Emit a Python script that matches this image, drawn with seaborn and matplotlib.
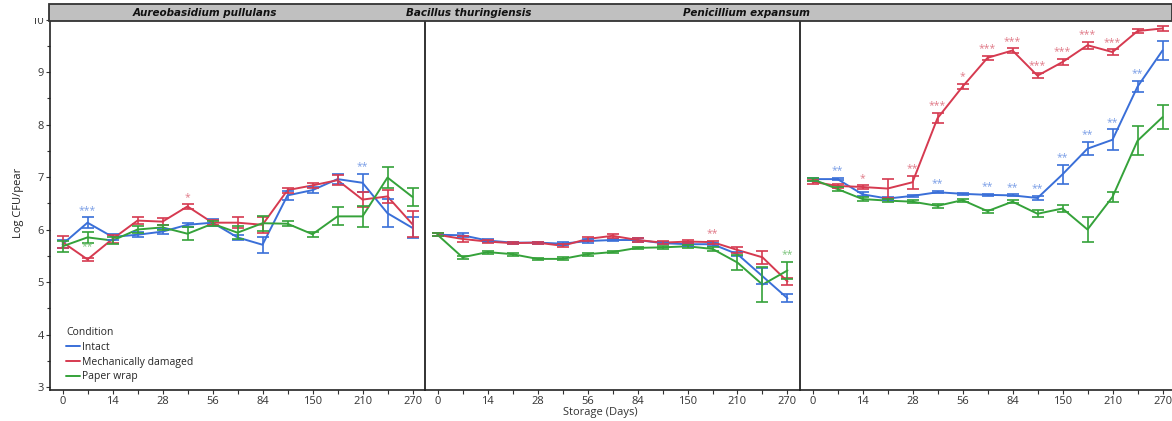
import pandas as pd
import matplotlib
matplotlib.use('Agg')
import matplotlib.pyplot as plt
from matplotlib.patches import Rectangle
from matplotlib.ticker import MultipleLocator
import seaborn as sns

# Storage days (categorical positions)
days = ['0', '7', '14', '21', '28', '42', '56', '70', '84', '120', '150', '180', '210', '240', '270']
labeled_days = ['0', '14', '28', '56', '84', '150', '210', '270']
species = ['Aureobasidium pullulans', 'Bacillus thuringiensis', 'Penicillium expansum']
conditions = ['Intact', 'Mechanically damaged', 'Paper wrap']

# Aureobasidium pullulans
ap_intact = [5.72, 6.13, 5.86, 5.90, 5.96, 6.09, 6.13, 5.85, 5.71, 6.65, 6.75, 6.96, 6.89, 6.31, 6.03]
ap_intact_err = [0.08, 0.10, 0.06, 0.05, 0.05, 0.04, 0.07, 0.05, 0.15, 0.08, 0.06, 0.10, 0.17, 0.27, 0.20]
ap_damaged = [5.76, 5.43, 5.82, 6.17, 6.15, 6.44, 6.13, 6.13, 6.09, 6.75, 6.84, 6.94, 6.57, 6.63, 6.10]
ap_damaged_err = [0.12, 0.03, 0.08, 0.06, 0.07, 0.04, 0.05, 0.10, 0.15, 0.05, 0.05, 0.10, 0.15, 0.12, 0.25]
ap_paper = [5.68, 5.85, 5.79, 6.00, 6.04, 5.92, 6.11, 5.94, 6.12, 6.11, 5.91, 6.25, 6.25, 6.99, 6.62]
ap_paper_err = [0.10, 0.10, 0.06, 0.07, 0.05, 0.12, 0.05, 0.12, 0.14, 0.05, 0.05, 0.17, 0.20, 0.20, 0.17]

# Bacillus thuringiensis
bt_intact = [5.90, 5.89, 5.79, 5.75, 5.75, 5.73, 5.78, 5.80, 5.80, 5.74, 5.72, 5.72, 5.53, 5.11, 4.69]
bt_intact_err = [0.03, 0.04, 0.03, 0.02, 0.02, 0.03, 0.03, 0.02, 0.03, 0.02, 0.03, 0.03, 0.04, 0.15, 0.08]
bt_damaged = [5.90, 5.82, 5.77, 5.74, 5.75, 5.69, 5.82, 5.88, 5.80, 5.75, 5.77, 5.76, 5.61, 5.47, 5.01]
bt_damaged_err = [0.03, 0.05, 0.03, 0.02, 0.02, 0.03, 0.03, 0.04, 0.03, 0.03, 0.03, 0.03, 0.05, 0.12, 0.07]
bt_paper = [5.90, 5.47, 5.57, 5.53, 5.44, 5.44, 5.53, 5.57, 5.65, 5.66, 5.68, 5.63, 5.37, 4.95, 5.22]
bt_paper_err = [0.03, 0.03, 0.03, 0.03, 0.02, 0.03, 0.03, 0.02, 0.02, 0.03, 0.03, 0.04, 0.15, 0.33, 0.16]

# Penicillium expansum
pe_intact = [6.96, 6.96, 6.67, 6.59, 6.64, 6.71, 6.68, 6.66, 6.65, 6.60, 7.05, 7.54, 7.71, 8.72, 9.41]
pe_intact_err = [0.03, 0.02, 0.04, 0.03, 0.02, 0.02, 0.02, 0.02, 0.02, 0.04, 0.18, 0.13, 0.20, 0.11, 0.19]
pe_damaged = [6.91, 6.83, 6.81, 6.78, 6.90, 8.12, 8.72, 9.27, 9.41, 8.93, 9.19, 9.51, 9.38, 9.78, 9.83]
pe_damaged_err = [0.04, 0.03, 0.03, 0.18, 0.12, 0.10, 0.05, 0.04, 0.04, 0.05, 0.06, 0.07, 0.05, 0.04, 0.05]
pe_paper = [6.96, 6.77, 6.58, 6.55, 6.53, 6.45, 6.56, 6.35, 6.53, 6.30, 6.40, 6.00, 6.62, 7.69, 8.14]
pe_paper_err = [0.03, 0.04, 0.03, 0.03, 0.03, 0.04, 0.03, 0.03, 0.03, 0.07, 0.06, 0.23, 0.10, 0.28, 0.23]

# significance marks: (species, condition, day, label, below)
signif = [
    ('Aureobasidium pullulans', 'Intact', '7', '***', False),
    ('Aureobasidium pullulans', 'Paper wrap', '7', '**', True),
    ('Aureobasidium pullulans', 'Mechanically damaged', '42', '*', False),
    ('Aureobasidium pullulans', 'Intact', '210', '**', False),
    ('Bacillus thuringiensis', 'Mechanically damaged', '180', '**', False),
    ('Bacillus thuringiensis', 'Paper wrap', '270', '**', False),
    ('Penicillium expansum', 'Intact', '7', '**', False),
    ('Penicillium expansum', 'Intact', '42', '**', False),
    ('Penicillium expansum', 'Intact', '70', '**', False),
    ('Penicillium expansum', 'Intact', '84', '**', False),
    ('Penicillium expansum', 'Intact', '120', '**', False),
    ('Penicillium expansum', 'Intact', '150', '**', False),
    ('Penicillium expansum', 'Intact', '180', '**', False),
    ('Penicillium expansum', 'Intact', '210', '**', False),
    ('Penicillium expansum', 'Intact', '240', '**', False),
    ('Penicillium expansum', 'Mechanically damaged', '14', '*', False),
    ('Penicillium expansum', 'Mechanically damaged', '28', '**', False),
    ('Penicillium expansum', 'Mechanically damaged', '42', '***', False),
    ('Penicillium expansum', 'Mechanically damaged', '56', '*', False),
    ('Penicillium expansum', 'Mechanically damaged', '70', '***', False),
    ('Penicillium expansum', 'Mechanically damaged', '84', '***', False),
    ('Penicillium expansum', 'Mechanically damaged', '120', '***', False),
    ('Penicillium expansum', 'Mechanically damaged', '150', '***', False),
    ('Penicillium expansum', 'Mechanically damaged', '180', '***', False),
    ('Penicillium expansum', 'Mechanically damaged', '210', '***', False),
    ('Penicillium expansum', 'Mechanically damaged', '240', '***', False),
]

series = {
    ('Aureobasidium pullulans', 'Intact'): (ap_intact, ap_intact_err),
    ('Aureobasidium pullulans', 'Mechanically damaged'): (ap_damaged, ap_damaged_err),
    ('Aureobasidium pullulans', 'Paper wrap'): (ap_paper, ap_paper_err),
    ('Bacillus thuringiensis', 'Intact'): (bt_intact, bt_intact_err),
    ('Bacillus thuringiensis', 'Mechanically damaged'): (bt_damaged, bt_damaged_err),
    ('Bacillus thuringiensis', 'Paper wrap'): (bt_paper, bt_paper_err),
    ('Penicillium expansum', 'Intact'): (pe_intact, pe_intact_err),
    ('Penicillium expansum', 'Mechanically damaged'): (pe_damaged, pe_damaged_err),
    ('Penicillium expansum', 'Paper wrap'): (pe_paper, pe_paper_err),
}

rows = []
for (sp, cond), (vals, errs) in series.items():
    for i, (d, v, e) in enumerate(zip(days, vals, errs)):
        rows.append((sp, cond, d, i, v, e))
df = pd.DataFrame(rows, columns=['Species', 'Condition', 'Day', 'pos', 'value', 'err'])

palette = {'Intact': '#3a6fd8', 'Mechanically damaged': '#d63a50', 'Paper wrap': '#35a23a'}
star_colors = {'Intact': '#7a9ee6', 'Mechanically damaged': '#e07a88', 'Paper wrap': '#7cc47c'}

sns.set_style('white')
plt.rcParams['font.family'] = ['Open Sans', 'DejaVu Sans']

fig = plt.figure(figsize=(11.72, 4.21), dpi=100)
W, H = 1172, 421
ax_w = 375 / W
axes = []
for k in range(3):
    ax = fig.add_axes([(50 + 375 * k) / W, 1 - 390 / H, ax_w, (390 - 12) / H])
    axes.append(ax)

for k, (ax, sp) in enumerate(zip(axes, species)):
    sub = df[df['Species'] == sp]
    sns.lineplot(data=sub, x='pos', y='value', hue='Condition', hue_order=conditions,
                 palette=palette, errorbar=None, linewidth=1.4, ax=ax, legend=(k == 0))
    for cond in conditions:
        s = sub[sub['Condition'] == cond]
        ax.errorbar(s['pos'], s['value'], yerr=s['err'], fmt='none',
                    ecolor=palette[cond], elinewidth=1.2, capsize=4, capthick=1.2)
    for sp2, cond, d, lab, below in signif:
        if sp2 != sp:
            continue
        s = sub[(sub['Condition'] == cond) & (sub['Day'] == d)].iloc[0]
        if below:
            ax.text(s['pos'], s['value'] - s['err'] + 0.02, lab, color=star_colors[cond],
                    ha='center', va='top', fontsize=7.5)
        else:
            ax.text(s['pos'], s['value'] + s['err'] + 0.03, lab, color=star_colors[cond],
                    ha='center', va='bottom', fontsize=7.5)

    ax.set_xlim(-0.5, 14.5)
    ax.set_ylim(2.943, 10.143)
    ax.set_xticks(range(0, 15, 2))
    ax.set_xticklabels(labeled_days)
    ax.xaxis.set_minor_locator(MultipleLocator(1))
    ax.yaxis.set_major_locator(MultipleLocator(1))
    ax.yaxis.set_minor_locator(MultipleLocator(0.5))
    ax.set_xlabel('')
    ax.set_ylabel('')
    ax.tick_params(axis='x', which='major', direction='out', length=3, width=0.8, pad=1,
                   labelsize=8, colors='#333333', bottom=True)
    ax.tick_params(axis='x', which='minor', direction='out', length=3, width=0.8,
                   colors='#333333', bottom=True)
    ax.tick_params(axis='y', which='major', direction='out', length=3, width=0.8, pad=1.5,
                   labelsize=8, colors='#333333', left=(k == 0), labelleft=(k == 0))
    ax.tick_params(axis='y', which='minor', direction='out', length=2, width=0.8,
                   colors='#333333', left=(k == 0))
    for side in ['top', 'right']:
        ax.spines[side].set_visible(False)
    ax.spines['bottom'].set_color('#222222')
    ax.spines['bottom'].set_linewidth(1.2)
    ax.spines['left'].set_color('#222222')
    ax.spines['left'].set_linewidth(1.3 if k > 0 else 1.2)

leg = axes[0].get_legend()
handles, labels = axes[0].get_legend_handles_labels()
leg.remove()
axes[0].legend(handles, labels, title='Condition', loc='lower left',
               bbox_to_anchor=(0.012, -0.01), frameon=False, fontsize=7.5, title_fontsize=7.5,
               handlelength=1.3, handletextpad=0.2, labelspacing=0.35, borderpad=0.6,
               alignment='left')

# strip with species names
fig.add_artist(Rectangle((49 / W, 1 - 21 / H), 1 - 49 / W, 16.5 / H, transform=fig.transFigure,
                         facecolor='#c0c0c0', edgecolor='#333333', linewidth=1.3, zorder=10))
# the top y label is clipped in the original image
fig.add_artist(Rectangle((0, 1 - 18 / H), 47 / W, 18 / H, transform=fig.transFigure,
                         facecolor='white', edgecolor='none', zorder=10))
for name, cx in zip(species, [205, 469, 746]):
    fig.text(cx / W, 1 - 12.5 / H, name, ha='center', va='center', fontsize=7.5,
             fontweight='bold', fontstyle='italic', color='#111111', zorder=11,
             family=['DejaVu Sans'])

fig.text(600 / W, 1 - 413 / H, 'Storage (Days)', ha='center', va='center', fontsize=8, color='#333333')
fig.text(19 / W, 1 - 203 / H, 'Log CFU/pear', ha='center', va='center', rotation=90,
         fontsize=8, color='#222222')

fig.savefig('out.png', dpi=100)
